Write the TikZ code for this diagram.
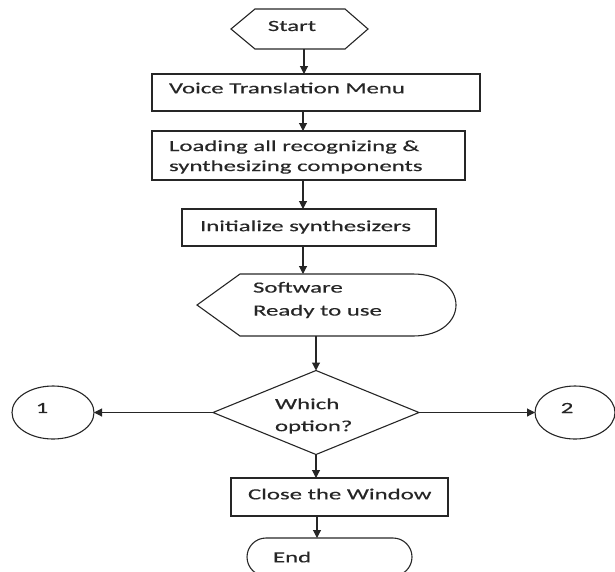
\documentclass[tikz,border=0pt]{standalone}
\usepackage{fontspec}
\setmainfont{Carlito}[FakeStretch=1.6,FakeBold=0.4]
\usetikzlibrary{arrows.meta,shapes.geometric}

\begin{document}
\begin{tikzpicture}[x=1pt,y=-1pt,
  line width=1.1pt,
  every node/.style={inner sep=0pt, outer sep=0pt},
  ink/.style={draw=black!85},
  box/.style={ink, rectangle},
  hidden/.style={rectangle},
  arr/.style={draw=black!85, -{Triangle[length=8pt,width=8pt]}},
  txt/.style={text=black!85, font=\fontsize{15.5}{20}\selectfont, align=left},
]
\useasboundingbox (0,0) rectangle (615,571);

% Start: hexagon outline and an invisible frame for connectors
\draw[ink, line join=miter] (231,29) -- (255,9) -- (345,9) -- (368,29) -- (345,49) -- (255,49) -- cycle;
\node[hidden, minimum width=137, minimum height=40] (start) at (299.5,29) {};
\node[txt] (tstart) at (292,26) {Start};

% Process boxes
\node[box, minimum width=328, minimum height=37] (vtm)  at (316,92.5)  {};
\node[box, minimum width=313, minimum height=49] (load) at (308.5,155.5) {};
\node[box, minimum width=254, minimum height=37] (init) at (309,227.5) {};
\node[txt, anchor=west] (tvtm)  at (169,88)  {Voice Translation Menu};
\node[txt, anchor=west] (tload) at (169,157) {Loading all recognizing \&\\synthesizing components};
\node[txt, anchor=west] (tinit) at (200,227) {Initialize synthesizers};

% Display shape
\draw[ink] (197,305) -- (240,274) -- (413,274)
  .. controls (442,274) and (456,290) .. (456,305)
  .. controls (456,320) and (442,336) .. (413,336)
  -- (240,336) -- cycle;
\node[hidden, minimum width=259, minimum height=62] (disp) at (326.5,305) {};
\node[txt, anchor=west, font=\fontsize{15.5}{23}\selectfont] (tdisp) at (253,300) {Software\\Ready to use};

% Decision and connectors to the two branches
\node[diamond, ink, minimum width=206, minimum height=84] (dia) at (316,412.5) {};
\node[txt, anchor=west, font=\fontsize{15.5}{22}\selectfont] (tdia) at (275,416) {Which\\option?};
\node[ellipse, ink, minimum width=82, minimum height=53] (c1) at (53,412.5) {};
\node[ellipse, ink, minimum width=80, minimum height=53] (c2) at (575,412.5) {};
\node[txt] (t1) at (42,408) {1};
\node[txt] (t2) at (567,408) {2};

% Closing steps
\node[box, minimum width=217, minimum height=38] (close) at (339.5,497) {};
\node[txt, anchor=west] (tclose) at (248,494) {Close the Window};
\node[ink, rectangle, rounded corners=19, minimum width=165, minimum height=38] (endn) at (329.5,557) {};
\node[txt, anchor=west] (tend) at (273,557) {End};

% Flow
\draw[arr] ([xshift=4.5]start.south) -- ([xshift=4.5]start.south |- vtm.north);
\draw[arr] ([xshift=-13]vtm.south) -- ([xshift=-13]vtm.south |- load.north);
\draw[arr] ([xshift=-5.5]load.south) -- ([xshift=-5.5]load.south |- init.north);
\draw[arr] ([xshift=-6]init.south) -- ([xshift=-6]init.south |- disp.north);
\draw[arr] (dia.north |- disp.south) -- (dia.north);
\draw[arr] (dia.west) -- (c1.east);
\draw[arr] (dia.east) -- (c2.west);
\draw[arr] (dia.south) -- (dia.south |- close.north);
\draw[arr] ([xshift=-22.5]close.south) -- ([xshift=-22.5]close.south |- endn.north);
\end{tikzpicture}
\end{document}
